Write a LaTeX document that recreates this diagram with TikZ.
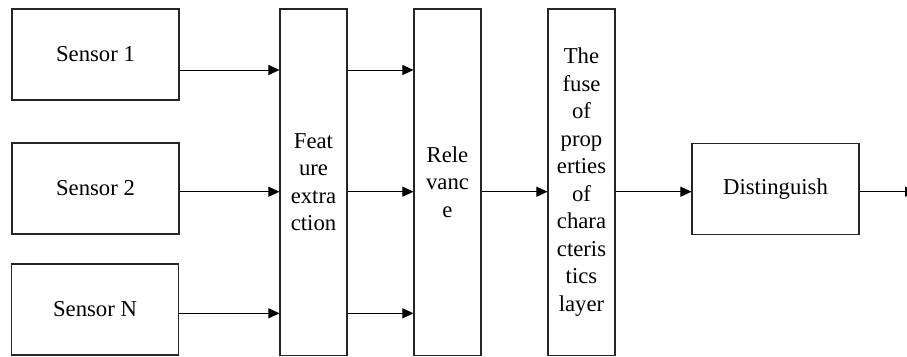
\documentclass[tikz,border=0pt]{standalone}
\usepackage{fontspec}
\setmainfont{Liberation Serif}
\usetikzlibrary{arrows.meta}
\begin{document}
\begin{tikzpicture}[x=1pt,y=-1pt,
  box/.style={draw=black!85, line width=1.1pt, fill=white, inner sep=0pt, align=center,
    font=\fontsize{22.7}{27.5}\selectfont},
  arr/.style={draw=black, line width=1pt, -{Triangle[length=11pt,width=10pt]}}]
\clip (0,0) rectangle (907,356);
\fill[white] (0,0) rectangle (907,356);
% sensors
\node[box, minimum width=167pt, minimum height=91pt] (s1) at (95.5,54.5) {Sensor 1};
\node[box, minimum width=167pt, minimum height=91pt] (s2) at (95.5,188.5) {Sensor 2};
\node[box, minimum width=167pt, minimum height=91pt] (sn) at (95,309.5) {Sensor N};
% tall boxes
\node[box, minimum width=67pt, minimum height=346.5pt] (fe) at (313.5,182.2) {Feat\\ure\\extra\\ction};
\node[box, minimum width=67pt, minimum height=346.5pt] (rel) at (447.5,182.2) {Rele\\vanc\\e};
\node[box, minimum width=67pt, minimum height=346.5pt] (fu) at (581.5,182.2) {The\\fuse\\of\\prop\\erties\\of\\chara\\cteris\\tics\\layer};
% distinguish
\node[box, minimum width=167pt, minimum height=91pt] (di) at (775.5,188.8) {Distinguish};
\coordinate (out) at (916,191.7);
% arrows
\draw[arr] (s1.east |- 0,70) -- (fe.west |- 0,70);
\draw[arr] (s2.east |- 0,191.7) -- (fe.west |- 0,191.7);
\draw[arr] (sn.east |- 0,313.3) -- (fe.west |- 0,313.3);
\draw[arr] (fe.east |- 0,70) -- (rel.west |- 0,70);
\draw[arr] (fe.east |- 0,191.7) -- (rel.west |- 0,191.7);
\draw[arr] (fe.east |- 0,313.3) -- (rel.west |- 0,313.3);
\draw[arr] (rel.east |- 0,191.7) -- (fu.west |- 0,191.7);
\draw[arr] (fu.east |- 0,191.7) -- (di.west |- 0,191.7);
\draw[arr] (di.east |- 0,191.7) -- (out);
\end{tikzpicture}
\end{document}
